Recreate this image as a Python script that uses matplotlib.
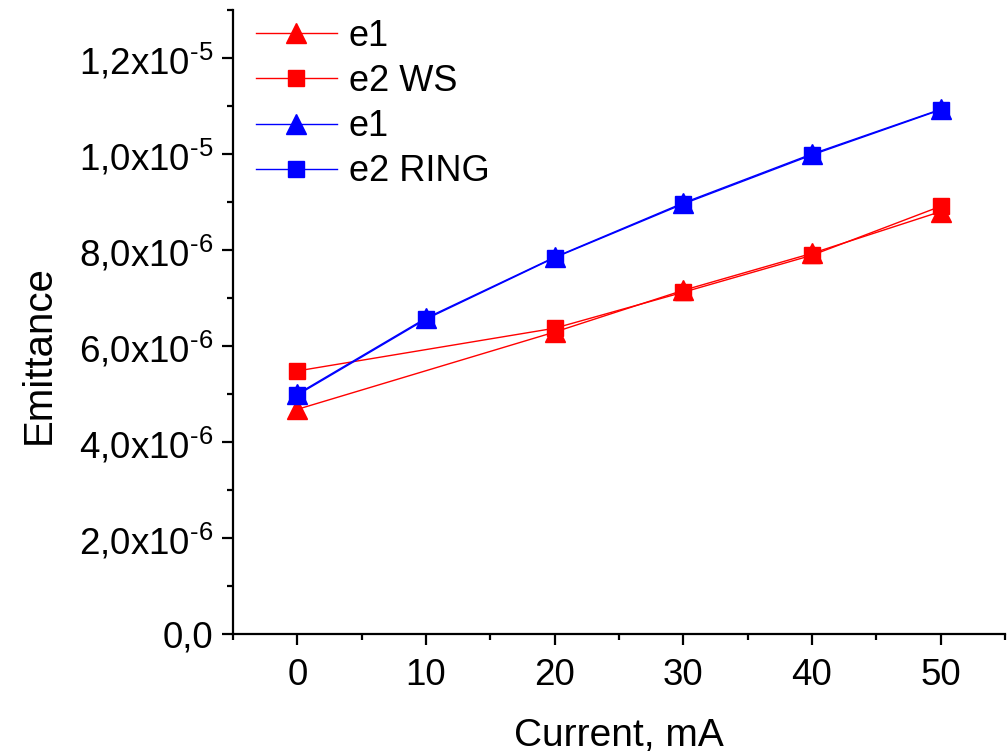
import numpy as np
import matplotlib.pyplot as plt
from matplotlib.ticker import FixedLocator, MultipleLocator

plt.rcParams['font.family'] = ['Liberation Sans', 'DejaVu Sans']
plt.rcParams['mathtext.fontset'] = 'custom'
plt.rcParams['mathtext.rm'] = 'Liberation Sans'

# data
current_ws = [0, 20, 30, 40, 50]
e1_ws = [4.68e-6, 6.29e-6, 7.16e-6, 7.93e-6, 8.80e-6]
e2_ws = [5.48e-6, 6.37e-6, 7.12e-6, 7.89e-6, 8.91e-6]

current_ring = [0, 10, 20, 30, 40, 50]
e1_ring = [5.00e-6, 6.58e-6, 7.85e-6, 8.98e-6, 10.0e-6, 10.93e-6]
e2_ring = [4.98e-6, 6.56e-6, 7.84e-6, 8.96e-6, 9.98e-6, 10.92e-6]

y_ticks = [0, 2e-6, 4e-6, 6e-6, 8e-6, 1.0e-5, 1.2e-5]
y_tick_labels = ['0,0', r'2,0x10$^{\text{-6}}$', r'4,0x10$^{\text{-6}}$', r'6,0x10$^{\text{-6}}$',
                 r'8,0x10$^{\text{-6}}$', r'1,0x10$^{\text{-5}}$', r'1,2x10$^{\text{-5}}$']

fig = plt.figure(figsize=(10.07, 7.56), dpi=100)
ax = fig.add_axes([0.2314, 0.1614, 0.7666, 0.8254])

ax.plot(current_ws, e1_ws, color='red', lw=1.0, marker='^', ms=14, label='e1')
ax.plot(current_ws, e2_ws, color='red', lw=1.0, marker='s', ms=11, label='e2 WS')
ax.plot(current_ring, e1_ring, color='blue', lw=1.0, marker='^', ms=14, label='e1')
ax.plot(current_ring, e2_ring, color='blue', lw=1.0, marker='s', ms=11, label='e2 RING')

ax.set_xlim(-5, 55)
ax.set_ylim(0, 1.3e-5)
ax.xaxis.set_major_locator(FixedLocator([0, 10, 20, 30, 40, 50]))
ax.xaxis.set_minor_locator(MultipleLocator(5))
ax.yaxis.set_major_locator(FixedLocator(y_ticks))
ax.set_yticklabels(y_tick_labels)
ax.yaxis.set_minor_locator(MultipleLocator(1e-6))

for s in ['top', 'right']:
    ax.spines[s].set_visible(False)
for s in ['left', 'bottom']:
    ax.spines[s].set_linewidth(1.6)

ax.tick_params(which='major', direction='out', length=8, width=1.6, labelsize=26.5, pad=6)
ax.tick_params(axis='x', which='major', pad=9)
ax.tick_params(which='minor', direction='out', length=4.5, width=1.6)

ax.set_xlabel('Current, mA', fontsize=28, labelpad=18)
ax.set_ylabel('Emittance', fontsize=29)
ax.yaxis.set_label_coords(-0.227, 0.447)

ax.legend(loc='upper left', bbox_to_anchor=(0.018, 1.0), frameon=False, fontsize=26,
          handlelength=2.24, handletextpad=0.33, labelspacing=0.28, borderaxespad=0.0,
          borderpad=0.25)

fig.savefig('out.png', dpi=100)
